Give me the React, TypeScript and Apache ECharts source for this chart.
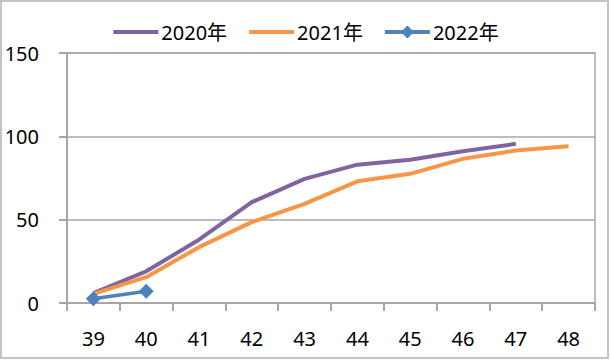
import React, { useEffect, useRef } from "react";
import * as echarts from "echarts";

const categories = ["39", "40", "41", "42", "43", "44", "45", "46", "47", "48"];
const seriesNames = ["2020年", "2021年", "2022年"];
const values2020 = [6, 19, 38, 60.5, 74.5, 83, 86, 91, 95.5];
const values2021 = [5.5, 15.5, 33.5, 48.5, 59.5, 73, 77.5, 86.5, 91.5, 94];
const values2022 = [2.5, 7];
const yTicks = { min: 0, max: 150, interval: 50 };

const FONT = "'Noto Sans', 'Noto Sans CJK SC', sans-serif";
const AXIS_GRAY = "#a6a6a6";
const FS = 20;

export default function App() {
  const ref = useRef<HTMLDivElement>(null);
  useEffect(() => {
    if (!ref.current) return;
    const chart = echarts.init(ref.current, undefined, { renderer: "svg" });
    chart.setOption({
      animation: false,
      backgroundColor: "#ffffff",
      textStyle: { fontFamily: FONT },
      graphic: [
        {
          type: "rect",
          shape: { x: 1, y: 1, width: 607, height: 357 },
          style: { fill: "none", stroke: "#c4c4c4", lineWidth: 2 },
          silent: true,
        },
      ],
      legend: {
        top: 17,
        left: "center",
        itemWidth: 45,
        itemHeight: 16,
        itemGap: 20,
        data: [
          { name: seriesNames[0], itemStyle: { opacity: 0 }, lineStyle: { width: 4 } },
          { name: seriesNames[1], itemStyle: { opacity: 0 }, lineStyle: { width: 4 } },
          { name: seriesNames[2], lineStyle: { width: 4 } },
        ],
        textStyle: { fontSize: FS, color: "#000", fontFamily: FONT, padding: [0, 0, 0, -2] },
      },
      grid: {
        left: 67,
        right: 15,
        top: 53,
        bottom: 57,
        show: true,
        borderColor: AXIS_GRAY,
        borderWidth: 1.5,
      },
      xAxis: {
        type: "category",
        data: categories,
        boundaryGap: true,
        axisLine: { lineStyle: { color: AXIS_GRAY, width: 2 } },
        axisTick: {
          show: true,
          alignWithLabel: false,
          length: 8,
          lineStyle: { color: AXIS_GRAY, width: 2 },
        },
        axisLabel: { fontSize: FS, color: "#000", margin: 25, fontFamily: FONT },
      },
      yAxis: {
        type: "value",
        min: yTicks.min,
        max: yTicks.max,
        interval: yTicks.interval,
        axisLine: { show: true, lineStyle: { color: AXIS_GRAY, width: 2 } },
        axisTick: { show: true, length: 8, lineStyle: { color: AXIS_GRAY, width: 2 } },
        splitLine: { show: true, lineStyle: { color: AXIS_GRAY, width: 1.5 } },
        axisLabel: { fontSize: FS, color: "#000", margin: 28, fontFamily: FONT },
      },
      series: [
        {
          name: seriesNames[0],
          type: "line",
          data: values2020,
          symbol: "none",
          lineStyle: { color: "#8064a2", width: 4 },
          itemStyle: { color: "#8064a2" },
        },
        {
          name: seriesNames[1],
          type: "line",
          data: values2021,
          symbol: "none",
          lineStyle: { color: "#f79646", width: 4 },
          itemStyle: { color: "#f79646" },
        },
        {
          name: seriesNames[2],
          type: "line",
          data: values2022,
          symbol: "diamond",
          symbolSize: 15,
          lineStyle: { color: "#4f81bd", width: 3.5 },
          itemStyle: { color: "#4f81bd" },
        },
      ],
    });
    return () => chart.dispose();
  }, []);
  return (
    <div
      ref={ref}
      style={{ position: "absolute", left: 0, top: 0, width: 610, height: 360 }}
    />
  );
}
